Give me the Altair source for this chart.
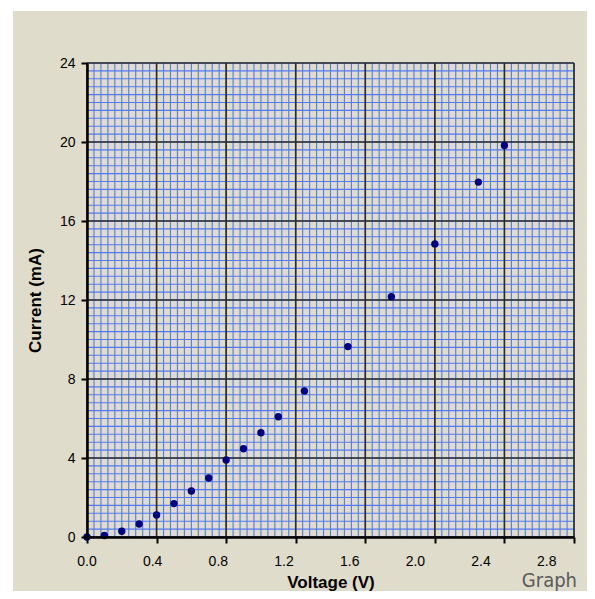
import altair as alt
import pandas as pd

# Data
voltage = [0, 0.1, 0.2, 0.3, 0.4, 0.5, 0.6, 0.7, 0.8, 0.9, 1.0, 1.1, 1.25, 1.5, 1.75, 2.0, 2.25, 2.4]
current = [0, 0.08, 0.29, 0.66, 1.11, 1.69, 2.33, 2.99, 3.90, 4.47, 5.28, 6.09, 7.39, 9.64, 12.17, 14.84, 17.97, 19.82]

x_ticks = [0, 0.4, 0.8, 1.2, 1.6, 2.0, 2.4, 2.8]
x_tick_labels = ["0.0", "0.4", "0.8", "1.2", "1.6", "2.0", "2.4", "2.8"]
y_ticks = [0, 4, 8, 12, 16, 20, 24]
x_minor = [round(i * 0.04, 2) for i in range(71)]
y_minor = [round(i * 0.4, 1) for i in range(61)]

W, H = 487, 474
BEIGE = "#e0dccb"
FONT = "Liberation Sans"

xs = alt.Scale(domain=[0, 2.8], nice=False, zero=True)
ys = alt.Scale(domain=[0, 24], nice=False, zero=True)

xaxis = alt.Axis(
    values=x_ticks, labels=False, grid=False,
    domainColor="black", domainWidth=2.5,
    tickColor="black", tickWidth=2, tickSize=6,
    title="Voltage (V)", titleFont=FONT, titleFontSize=17, titleFontWeight="bold",
    titleColor="black", titleY=50, titleBaseline="alphabetic", zindex=1,
)
yaxis = alt.Axis(
    values=y_ticks, format="d", grid=False,
    domainColor="black", domainWidth=2.5,
    tickColor="black", tickWidth=2, tickSize=6,
    labelFont=FONT, labelFontSize=14, labelColor="black", labelPadding=6,
    labelFlush=False,
    title="Current (mA)", titleFont=FONT, titleFontSize=17, titleFontWeight="bold",
    titleColor="black", titleX=-47, titleY=H / 2, titleBaseline="alphabetic",
    titleAngle=270, titleAlign="center", zindex=1,
)

pts = pd.DataFrame({"v": voltage, "i": current})

bg = alt.Chart(pd.DataFrame({"a": [0]})).mark_rect(color=BEIGE).encode(
    x=alt.value(-74), x2=alt.value(W + 20), y=alt.value(-52), y2=alt.value(H + 60)
)

minor_x = alt.Chart(pd.DataFrame({"v": x_minor})).mark_rule(color="#5078f2", strokeWidth=1.1).encode(
    x=alt.X("v:Q", scale=xs, axis=xaxis)
)
minor_y = alt.Chart(pd.DataFrame({"i": y_minor})).mark_rule(color="#5078f2", strokeWidth=1.1).encode(
    y=alt.Y("i:Q", scale=ys, axis=yaxis)
)
major_x = alt.Chart(pd.DataFrame({"v": x_ticks})).mark_rule(color="#2a2a2a", strokeWidth=1.6).encode(
    x=alt.X("v:Q", scale=xs, axis=xaxis)
)
major_y = alt.Chart(pd.DataFrame({"i": y_ticks})).mark_rule(color="#2a2a2a", strokeWidth=1.6).encode(
    y=alt.Y("i:Q", scale=ys, axis=yaxis)
)

points = alt.Chart(pts).mark_circle(size=55, color="#000080", opacity=1).encode(
    x=alt.X("v:Q", scale=xs, axis=xaxis),
    y=alt.Y("i:Q", scale=ys, axis=yaxis),
)

# x tick labels as in the reference: printed slightly left of their ticks, drifting with value
xlab = alt.Chart(pd.DataFrame({"v": x_ticks, "t": x_tick_labels})).transform_calculate(
    pos="datum.v * 0.944"
).mark_text(font=FONT, fontSize=14, color="black", baseline="middle", align="center").encode(
    x=alt.X("pos:Q", scale=xs, axis=xaxis),
    y=alt.value(H + 25),
    text="t:N",
)

label = alt.Chart(pd.DataFrame({"a": [0]})).mark_text(
    text="Graph", font="DejaVu Sans Condensed, Roboto, sans-serif", fontSize=20, color="#5a5a5a",
    align="right", baseline="alphabetic"
).encode(x=alt.value(490), y=alt.value(H + 50))

chart = alt.layer(bg, minor_x, minor_y, major_x, major_y, points, xlab, label).properties(
    width=W, height=H,
    padding={"left": 79, "top": 55, "right": 13, "bottom": 54},
    autosize=alt.AutoSizeParams(type="none"),
).configure(background="white").configure_view(stroke="black", strokeWidth=3)

chart.save("out.html", embed_options={"renderer": "svg", "actions": False})
